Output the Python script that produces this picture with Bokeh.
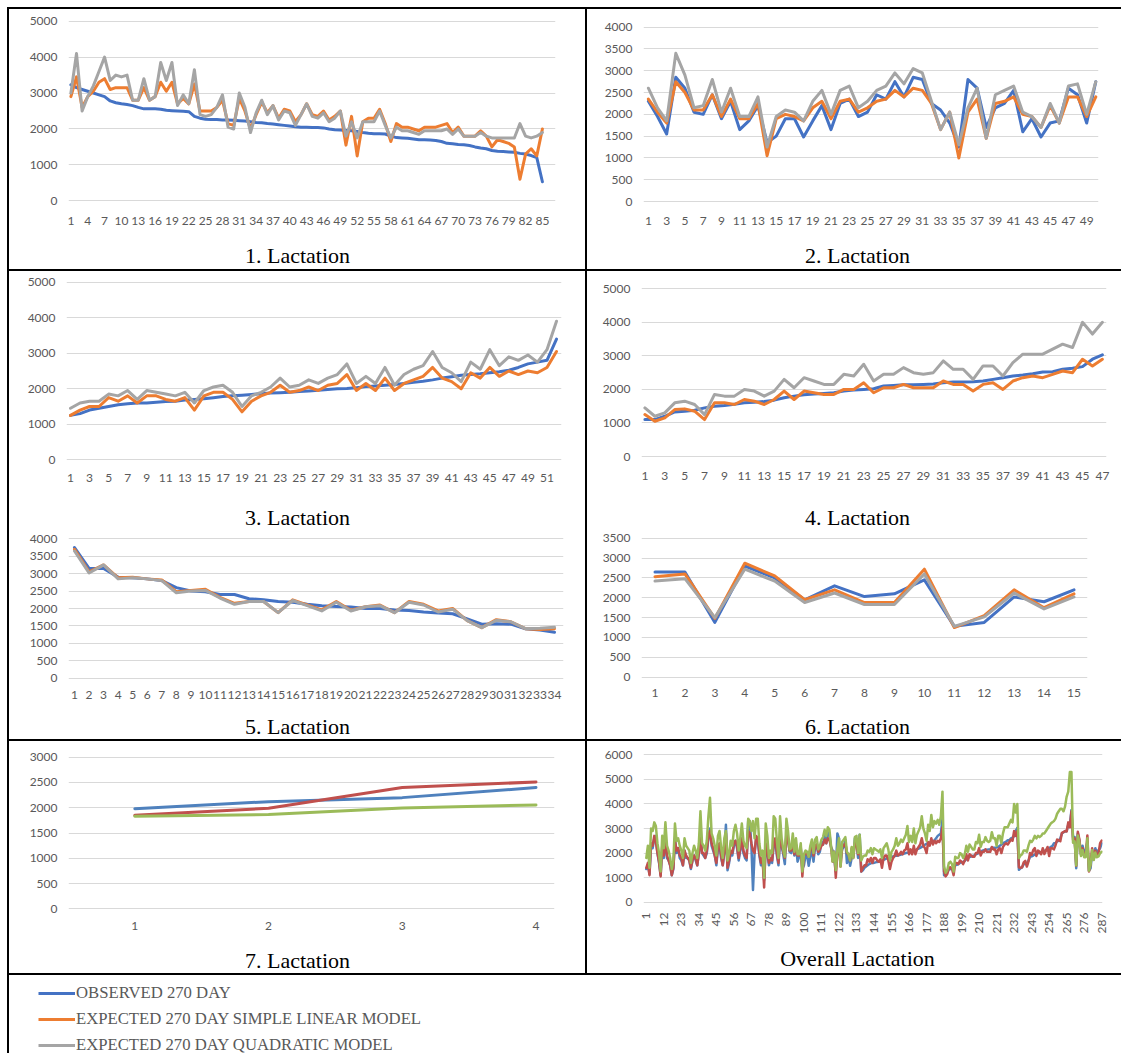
import math
from bokeh.plotting import figure
from bokeh.models import Range1d, FixedTicker, Legend, LegendItem, Spacer, Label
from bokeh.layouts import column, row
from bokeh.embed import file_html
from bokeh.resources import INLINE

# ---------------- data ----------------
L1_OBS = [3230, 3150, 3100, 3050, 3000, 2950, 2900, 2780, 2730, 2700,
          2680, 2650, 2600, 2560, 2560, 2560, 2550, 2520, 2510, 2500,
          2490, 2480, 2350, 2300, 2270, 2260, 2260, 2250, 2250, 2240,
          2230, 2220, 2200, 2180, 2170, 2150, 2140, 2120, 2100, 2080,
          2060, 2050, 2050, 2040, 2040, 2030, 2000, 1980, 1970, 1960,
          1950, 1930, 1900, 1880, 1870, 1870, 1860, 1800, 1760, 1750,
          1740, 1720, 1700, 1700, 1690, 1680, 1650, 1600, 1590, 1570,
          1560, 1540, 1500, 1470, 1450, 1400, 1380, 1370, 1360, 1350,
          1320, 1300, 1260, 1200, 530]
L1_LIN = [2900, 3450, 2600, 2900, 3050, 3300, 3400, 3100, 3150, 3150,
          3150, 2800, 2800, 3150, 2800, 2900, 3300, 3050, 3300, 2700,
          2850, 2700, 3250, 2500, 2500, 2500, 2600, 2800, 2150, 2100,
          2850, 2500, 2000, 2400, 2750, 2450, 2650, 2300, 2550, 2500,
          2200, 2400, 2700, 2400, 2350, 2500, 2250, 2350, 2500, 1550,
          2350, 1250, 2200, 2300, 2300, 2550, 2150, 1650, 2150, 2050,
          2050, 2000, 1950, 2050, 2050, 2050, 2100, 2150, 1900, 2050,
          1800, 1800, 1800, 1950, 1800, 1500, 1700, 1650, 1600, 1500,
          600, 1300, 1450, 1250, 2000]
L1_QUAD = [3000, 4100, 2500, 2900, 3200, 3600, 4000, 3350, 3500, 3450,
           3500, 2800, 2800, 3400, 2800, 2900, 3850, 3350, 3850, 2650,
           2950, 2700, 3650, 2400, 2350, 2400, 2600, 2950, 2050, 2000,
           3000, 2600, 1900, 2450, 2800, 2400, 2650, 2250, 2500, 2450,
           2100, 2400, 2700, 2350, 2300, 2450, 2200, 2300, 2500, 1800,
           2200, 1750, 2200, 2200, 2200, 2500, 2100, 1750, 2050, 1950,
           1950, 1900, 1850, 1950, 1950, 1950, 1950, 2000, 1850, 2000,
           1800, 1800, 1800, 1900, 1800, 1750, 1750, 1750, 1750, 1750,
           2150, 1800, 1750, 1800, 1900]

L2_OBS = [2300, 1950, 1550, 2850, 2600, 2050, 2000, 2450, 1900, 2300,
          1650, 1850, 2200, 1350, 1500, 1900, 1900, 1480, 1850, 2200,
          1650, 2250, 2350, 1950, 2050, 2450, 2350, 2750, 2400, 2850,
          2800, 2250, 2100, 1800, 1250, 2800, 2600, 1700, 2150, 2250,
          2550, 1600, 1900, 1480, 1800, 1850, 2600, 2450, 1800, 2750]
L2_LIN = [2350, 2050, 1800, 2750, 2500, 2100, 2100, 2450, 1950, 2350,
          1900, 1900, 2250, 1050, 1900, 2000, 1950, 1850, 2150, 2300,
          1900, 2300, 2350, 2050, 2150, 2300, 2350, 2550, 2400, 2600,
          2550, 2250, 1650, 2050, 1000, 2050, 2350, 1450, 2250, 2300,
          2400, 2000, 1950, 1700, 2200, 1800, 2400, 2400, 1950, 2400]
L2_QUAD = [2600, 2150, 1850, 3400, 2900, 2150, 2200, 2800, 2050, 2600,
           1950, 1950, 2400, 1250, 1950, 2100, 2050, 1850, 2300, 2550,
           2000, 2550, 2650, 2150, 2300, 2550, 2650, 2950, 2700, 3050,
           2950, 2300, 1650, 2050, 1300, 2150, 2600, 1450, 2450, 2550,
           2650, 2050, 1950, 1700, 2250, 1800, 2650, 2700, 2000, 2750]

L3_OBS = [1250, 1300, 1400, 1450, 1500, 1550, 1580, 1600, 1600, 1620,
          1640, 1650, 1680, 1700, 1720, 1750, 1780, 1800, 1820, 1840,
          1860, 1880, 1890, 1900, 1920, 1940, 1960, 1980, 2000, 2010,
          2030, 2060, 2080, 2100, 2120, 2150, 2180, 2210, 2250, 2300,
          2340, 2380, 2400, 2420, 2450, 2480, 2520, 2600, 2700, 2750,
          2800, 3400]
L3_LIN = [1250, 1400, 1500, 1500, 1750, 1650, 1800, 1600, 1800, 1800,
          1700, 1650, 1750, 1400, 1800, 1900, 1900, 1700, 1350, 1650,
          1800, 1900, 2100, 1900, 1950, 2050, 1950, 2100, 2150, 2400,
          1950, 2150, 1950, 2300, 1950, 2150, 2250, 2350, 2600, 2300,
          2200, 2000, 2450, 2300, 2600, 2350, 2500, 2400, 2500, 2450,
          2600, 3050]
L3_QUAD = [1450, 1600, 1650, 1650, 1850, 1800, 1950, 1700, 1950, 1900,
           1850, 1800, 1900, 1600, 1950, 2050, 2100, 1900, 1500, 1800,
           1900, 2050, 2300, 2050, 2100, 2250, 2150, 2300, 2400, 2700,
           2150, 2350, 2150, 2600, 2100, 2400, 2550, 2650, 3050, 2600,
           2450, 2200, 2750, 2550, 3100, 2650, 2900, 2800, 2950, 2750,
           3100, 3900]

L4_OBS = [1100, 1100, 1200, 1330, 1350, 1380, 1450, 1500, 1520, 1560,
          1600, 1620, 1640, 1680, 1750, 1800, 1840, 1860, 1880, 1900,
          1950, 1980, 2000, 2020, 2100, 2120, 2140, 2140, 2150, 2160,
          2200, 2220, 2220, 2230, 2250, 2300, 2350, 2400, 2430, 2470,
          2520, 2530, 2600, 2630, 2680, 2900, 3030]
L4_LIN = [1250, 1050, 1150, 1400, 1420, 1350, 1100, 1600, 1600, 1550,
          1700, 1650, 1550, 1700, 1950, 1700, 1950, 1900, 1850, 1850,
          2000, 2000, 2200, 1900, 2050, 2050, 2150, 2050, 2050, 2050,
          2250, 2150, 2150, 1950, 2150, 2200, 2000, 2250, 2350, 2400,
          2350, 2450, 2550, 2500, 2900, 2700, 2900]
L4_QUAD = [1450, 1200, 1300, 1600, 1650, 1550, 1250, 1850, 1800, 1800,
           2000, 1950, 1800, 1950, 2300, 2050, 2350, 2250, 2150, 2150,
           2450, 2400, 2750, 2250, 2450, 2450, 2650, 2500, 2450, 2500,
           2850, 2600, 2600, 2300, 2700, 2700, 2400, 2800, 3050, 3050,
           3050, 3200, 3350, 3250, 4000, 3650, 4000]

L5_OBS = [3750, 3150, 3150, 2900, 2880, 2850, 2800, 2600, 2500, 2480,
          2400, 2400, 2280, 2250, 2200, 2180, 2120, 2080, 2060, 2040,
          2000, 2000, 1960, 1940, 1900, 1870, 1850, 1700, 1550, 1560,
          1550, 1420, 1380, 1320]
L5_LIN = [3700, 3050, 3250, 2880, 2900, 2850, 2820, 2480, 2520, 2550,
          2320, 2150, 2200, 2200, 1880, 2250, 2100, 1960, 2200, 1950,
          2050, 2100, 1880, 2200, 2120, 1930, 2000, 1650, 1450, 1680,
          1620, 1420, 1400, 1420]
L5_QUAD = [3650, 3020, 3250, 2850, 2880, 2850, 2800, 2450, 2500, 2520,
           2300, 2120, 2200, 2200, 1880, 2230, 2080, 1930, 2180, 1930,
           2050, 2080, 1880, 2180, 2100, 1900, 1980, 1650, 1450, 1660,
           1620, 1420, 1430, 1460]

L6_OBS = [2650, 2650, 1380, 2800, 2500, 1950, 2300, 2030, 2100, 2450, 1280, 1380, 2020, 1900, 2200]
L6_LIN = [2530, 2600, 1480, 2870, 2550, 1950, 2200, 1880, 1880, 2720, 1250, 1550, 2200, 1750, 2100]
L6_QUAD = [2420, 2480, 1500, 2720, 2420, 1880, 2120, 1830, 1830, 2600, 1280, 1520, 2120, 1720, 2020]

L7_OBS = [1980, 2120, 2200, 2400]
L7_LIN = [1850, 1990, 2400, 2510]
L7_QUAD = [1830, 1865, 1995, 2055]

# overall chart: first 85 animals (unsorted order) read separately
OV_OBS_A = [1350, 1500, 1150, 2300, 2200, 2600, 2700, 2000, 1600, 1100,
            2200, 1800, 2700, 1800, 1700, 1500, 1100, 1350, 2600, 2000,
            2200, 1800, 1700, 1500, 2100, 1800, 1800, 1700, 1350, 1700,
            1900, 1700, 1500, 2000, 2800, 2000, 1900, 1800, 2000, 2600,
            3000, 2300, 2100, 1900, 1500, 2200, 2300, 1800, 1500, 2000,
            3150, 1300, 1600, 2000, 1900, 2300, 2500, 2200, 1700, 2100,
            2500, 2000, 1800, 1700, 3300, 3300, 2300, 500, 2000, 2600,
            2500, 1900, 1500, 1700, 900, 2300, 2000, 1500, 1700, 1600,
            2300, 2500, 1900, 1500, 2600]
OV_LIN_A = [1400, 1600, 1100, 2400, 2300, 2700, 2450, 2000, 1650, 1050,
            2300, 1900, 2600, 1900, 1700, 1500, 1100, 1400, 2500, 2100,
            2200, 1900, 1800, 1500, 2100, 1900, 1800, 1700, 1400, 1700,
            1900, 1800, 1500, 2000, 2700, 2000, 2000, 1800, 2100, 2700,
            2900, 2400, 2200, 1900, 1600, 2300, 2400, 1900, 1500, 2100,
            2800, 1400, 1700, 2100, 2000, 2400, 2500, 2300, 1800, 2200,
            2600, 2100, 1900, 1800, 2900, 2800, 2400, 2100, 2000, 2700,
            2600, 2000, 1600, 1800, 600, 2400, 2100, 1600, 1800, 1700,
            2400, 2600, 2000, 1600, 2700]
OV_QUAD_A = [1800, 2300, 1400, 3000, 2900, 3250, 3100, 2400, 2000, 1250,
             2700, 2200, 3250, 2300, 2100, 1800, 1350, 1700, 3200, 2500,
             2600, 2300, 2100, 1800, 2600, 2300, 2200, 2100, 1600, 2000,
             2300, 2100, 1800, 2400, 3700, 2400, 2300, 2100, 2500, 3500,
             4250, 2800, 2600, 2300, 1900, 2700, 2900, 2200, 1800, 2600,
             2900, 1700, 2000, 2500, 2300, 2900, 3150, 2800, 2100, 2600,
             3200, 2500, 2300, 2200, 3400, 3300, 2900, 3300, 2600, 3400,
             3400, 2400, 1900, 2100, 1000, 3200, 2700, 1800, 2100, 2000,
             3500, 3400, 2500, 1800, 3500]
OV_QUAD_C = [1700, 1850, 1900, 1900, 2100, 2050, 2200, 1950, 2200, 2150,
             2100, 2050, 2150, 1800, 2200, 2300, 2400, 2150, 1700, 2050,
             2150, 2300, 2600, 2300, 2400, 2550, 2450, 2600, 2750, 3100,
             2450, 2700, 2450, 3000, 2400, 2750, 2900, 3050, 3500, 3000,
             2800, 2500, 3150, 2900, 3550, 3050, 3300, 3200, 3350, 3150,
             3500, 4500]
OV_QUAD_E = [1800, 1900, 1950, 2100, 2100, 2050, 2300, 2500, 2450, 2550,
             2700, 2600, 2700, 2650, 2700, 2800, 2800, 2900, 3000, 3100,
             3200, 3250, 3300, 3400, 3600, 3700, 3800, 3800, 3700, 3900,
             4300, 4500, 5300, 5300]

OV_OBS = OV_OBS_A + L2_OBS + L3_OBS + L4_OBS + L5_OBS[::-1] + L6_OBS + L7_OBS
OV_LIN = OV_LIN_A + L2_LIN + L3_LIN + L4_LIN + L5_LIN[::-1] + L6_LIN + L7_LIN
OV_QUAD = OV_QUAD_A + L2_QUAD + OV_QUAD_C + L4_QUAD + OV_QUAD_E + L6_QUAD + L7_QUAD

X1_TICKS = list(range(1, 86, 3))
X2_TICKS = list(range(1, 50, 2))
X3_TICKS = list(range(1, 52, 2))
X4_TICKS = list(range(1, 48, 2))
X5_TICKS = list(range(1, 35))
X6_TICKS = list(range(1, 16))
X7_TICKS = [1, 2, 3, 4]
X8_TICKS = list(range(1, 288, 11))

TITLES = ["1. Lactation", "2. Lactation", "3. Lactation", "4. Lactation",
          "5. Lactation", "6. Lactation", "7. Lactation", "Overall Lactation"]
LEGEND_LABELS = ["OBSERVED 270 DAY", "EXPECTED 270 DAY SIMPLE LINEAR MODEL",
                 "EXPECTED 270 DAY QUADRATIC MODEL"]

# ---------------- styling ----------------
BLUE, ORANGE, GREY = "#4472C4", "#ED7D31", "#A5A5A5"
BLUE2, RED2, GREEN2 = "#4F81BD", "#C0504D", "#9BBB59"
TICK_FONT = "Lato"
TICK_COLOR = "#595959"


def blank_fig(w, h):
    f = figure(width=w, height=h, x_range=Range1d(0, 1), y_range=Range1d(0, 1),
               x_axis_type=None, y_axis_type=None, output_backend="svg",
               toolbar_location=None, min_border=0, frame_align=False)
    f.outline_line_color = None
    f.background_fill_color = "white"
    f.border_fill_color = "white"
    return f


def make_chart(cell, split, frame_x, pts_x, y_px, ymax, ystep, xticks, series, colors,
               title, title_xy, xlab_cy, lw=3.0, rotate=False):
    """cell = (x0, y0, w, h) on the page; chart area above `split`, title strip below."""
    x0, y0, w, h_all = cell
    h = split - y0
    fl, fr = frame_x
    p1, pn = pts_x
    yt, yz = y_px
    n = len(series[0])
    pad = 3
    mbl = round(fl - x0)
    mbr = round(x0 + w - fr)
    mbt = round(yt - pad - y0)
    mbb = round(y0 + h - (yz + pad))
    fl_i = x0 + mbl
    fr_i = x0 + w - mbr
    ft_i = y0 + mbt
    fb_i = y0 + h - mbb
    s = (pn - p1) / (n - 1)
    xr = Range1d(1 - (p1 - fl_i) / s, n + (fr_i - pn) / s)
    u = ymax / (yz - yt)
    yr = Range1d(-(fb_i - yz) * u, ymax + (yt - ft_i) * u)
    p = figure(width=w, height=h, x_range=xr, y_range=yr,
               output_backend="svg", toolbar_location=None, frame_align=False,
               min_border_left=mbl, min_border_right=mbr,
               min_border_top=mbt, min_border_bottom=mbb)
    p.background_fill_color = "white"
    p.border_fill_color = "white"
    p.outline_line_color = None
    for ax in (p.xaxis[0], p.yaxis[0]):
        ax.axis_line_color = None
        ax.major_tick_line_color = None
        ax.minor_tick_line_color = None
        ax.major_tick_in = 0
        ax.major_tick_out = 0
        ax.minor_tick_in = 0
        ax.minor_tick_out = 0
        ax.major_label_text_font = TICK_FONT
        ax.major_label_text_font_size = "12px"
        ax.major_label_text_color = TICK_COLOR
    xax = p.xaxis[0]
    xax.ticker = FixedTicker(ticks=xticks)
    p.yaxis[0].ticker = FixedTicker(ticks=list(range(0, ymax + 1, ystep)))
    p.yaxis[0].major_label_standoff = 11
    if rotate:
        xax.major_label_orientation = math.pi / 2
        xax.major_label_standoff = max(0, round(xlab_cy - fb_i))
    else:
        xax.major_label_standoff = max(0, round(xlab_cy - 5 - fb_i))
    p.xgrid.visible = False
    p.ygrid.grid_line_color = "#D9D9D9"
    p.ygrid.grid_line_width = 1
    xs = list(range(1, n + 1))
    for ys, c in zip(series, colors):
        p.line(xs, ys, line_color=c, line_width=lw, line_join="round", line_cap="round")

    hs = y0 + h_all - split
    strip = blank_fig(w, hs)
    strip.add_layout(Label(x=title_xy[0] - x0, y=hs - (title_xy[1] - split),
                           x_units="screen", y_units="screen", text=title,
                           text_align="center", text_baseline="middle",
                           text_font="Liberation Serif", text_font_size="22px",
                           text_color="black"))
    return column(p, strip)


C3 = (BLUE, ORANGE, GREY)
C2 = (BLUE2, RED2, GREEN2)

# cells: (x0, y0, width, height) in page pixels, then the y where the title strip begins
cell1 = make_chart((9, 9, 576, 260), 239, (67.7, 555), (70.4, 541.9), (20.7, 200.3), 5000, 1000,
                   X1_TICKS, (L1_OBS, L1_LIN, L1_QUAD), C3, TITLES[0], (297, 255), 221)
cell2 = make_chart((587, 9, 534, 260), 239, (643.4, 1098.4), (647.9, 1095.3), (26.7, 201), 4000, 500,
                   X2_TICKS, (L2_OBS, L2_LIN, L2_QUAD), C3, TITLES[1], (857, 255), 221)
cell3 = make_chart((9, 271, 576, 259), 500, (65.9, 560.7), (70, 556), (281.7, 459.3), 5000, 1000,
                   X3_TICKS, (L3_OBS, L3_LIN, L3_QUAD), C3, TITLES[2], (297, 516.7), 478.3)
cell4 = make_chart((587, 271, 534, 259), 500, (640.6, 1106.4), (644.4, 1101.9), (288.3, 456), 5000, 1000,
                   X4_TICKS, (L4_OBS, L4_LIN, L4_QUAD), C3, TITLES[3], (857, 516.7), 475.7)
cell5 = make_chart((9, 530, 576, 209), 711, (67.7, 563.3), (74, 554), (538.3, 677.7), 4000, 500,
                   X5_TICKS, (L5_OBS, L5_LIN, L5_QUAD), C3, TITLES[4], (297, 725.5), 695)
cell6 = make_chart((587, 530, 534, 209), 711, (640.6, 1087.3), (654.5, 1073.5), (537.7, 676.7), 3500, 500,
                   X6_TICKS, (L6_OBS, L6_LIN, L6_QUAD), C3, TITLES[5], (857, 725.5), 692.7)
cell7 = make_chart((9, 741, 576, 232), 944, (67.7, 554), (134.3, 535.5), (756.7, 908.3), 3000, 500,
                   X7_TICKS, (L7_OBS, L7_LIN, L7_QUAD), C2, TITLES[6], (297, 959.5), 925.7)
cell8 = make_chart((587, 741, 534, 232), 942, (643.4, 1102.2), (645.8, 1101.2), (754.3, 901.7), 6000, 1000,
                   X8_TICKS, (OV_OBS, OV_LIN, OV_QUAD), C2, TITLES[7], (857, 958), 911.7,
                   lw=2.5, rotate=True)

# ---------------- legend row ----------------
lg = blank_fig(1112, 78)
# legend-only renderers: their points lie outside the visible range
rends = [lg.line([0, 1], [-5, -5], line_color=c, line_width=3) for c in C3]
legend = Legend(items=[LegendItem(label=t, renderers=[r]) for t, r in zip(LEGEND_LABELS, rends)],
                location=(29, -2), orientation="vertical",
                glyph_width=37, glyph_height=20, label_height=20, spacing=6,
                padding=0, margin=0, label_standoff=1,
                label_text_font="Liberation Serif", label_text_font_size="16.7px",
                label_text_color="#595959", border_line_color=None,
                background_fill_alpha=0)
lg.add_layout(legend)


def rule(w, h):
    """a black table rule"""
    return Spacer(width=w, height=h, styles={"background-color": "black"})


table = column(
    rule(1114, 2),
    row(rule(2, 260), cell1, rule(2, 260), cell2),
    rule(1114, 2),
    row(rule(2, 468), column(cell3, cell5), rule(2, 468), column(cell4, cell6)),
    rule(1114, 2),
    row(rule(2, 232), cell7, rule(2, 232), cell8),
    rule(1114, 2),
    row(rule(2, 78), lg),
)
root = column(Spacer(width=1121, height=7), row(Spacer(width=7, height=1048), table))

open("out.html", "w").write(file_html(root, INLINE))
